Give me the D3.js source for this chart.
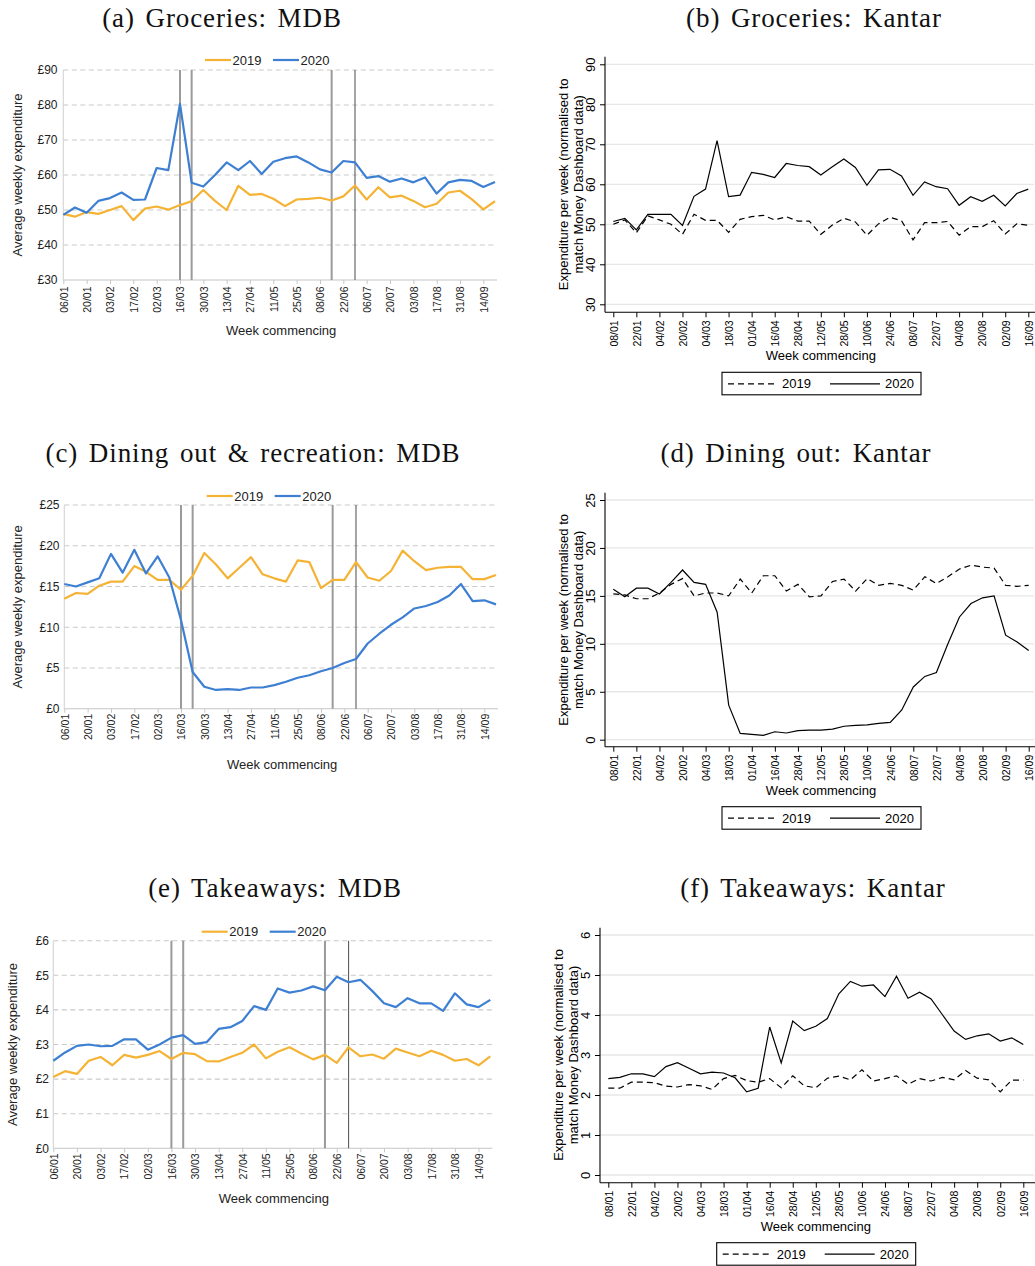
<!DOCTYPE html>
<html>
<head>
<meta charset="utf-8">
<script src="https://cdn.jsdelivr.net/npm/d3@7"></script>
<style>
  body { margin: 0; background: #fff; }
  svg { display: block; }
  text { font-family: "Liberation Sans", Arial, sans-serif; }
</style>
</head>
<body>
<svg id="fig" width="1035" height="1266"></svg>
<script>
// ---- Money Dashboard (MDB) weeks, Monday of each week ----
const mdbWeeks = ["06/01","13/01","20/01","27/01","03/02","10/02","17/02","24/02","02/03","09/03",
  "16/03","23/03","30/03","06/04","13/04","20/04","27/04","04/05","11/05","18/05",
  "25/05","01/06","08/06","15/06","22/06","29/06","06/07","13/07","20/07","27/07",
  "03/08","10/08","17/08","24/08","31/08","07/09","14/09","21/09"];
const mdbTickWeeks = mdbWeeks.filter((d, i) => i % 2 === 0);
// Weeks marked with a vertical rule (lockdown start / easing steps)
const policyWeeks = ["16/03","23/03","15/06","29/06"];

// ---- Kantar periods: labelled every second observation ----
const kantarTickLabels = ["08/01","22/01","04/02","20/02","04/03","18/03","01/04","16/04","28/04",
  "12/05","28/05","10/06","24/06","08/07","22/07","04/08","20/08","02/09","16/09"];

// ---- (a) Groceries: MDB ----
const groceriesMdb2019 = [48.9,48.1,49.4,48.9,50.0,51.1,47.1,50.4,51.0,50.1,51.4,52.5,55.7,52.6,50.0,56.9,54.3,54.6,53.2,51.1,
  53.0,53.2,53.5,52.7,53.9,57.0,53.0,56.5,53.6,54.1,52.6,50.8,51.8,55.0,55.5,53.1,50.2,52.5];
const groceriesMdb2020 = [48.6,50.7,49.2,52.6,53.4,55.0,52.9,53.0,62.0,61.4,80.3,57.8,56.7,60.0,63.6,61.4,64.0,60.3,63.8,64.8,
  65.3,63.6,61.6,60.7,64.0,63.6,59.2,59.7,58.1,59.0,57.9,59.3,54.7,57.9,58.6,58.3,56.6,58.0];

// ---- (b) Groceries: Kantar ----
const groceriesKantar2019 = [50.0,51.1,47.9,52.1,51.1,50.0,47.5,52.5,51.0,51.0,48.0,51.25,51.9,52.25,51.1,51.9,50.8,50.8,47.5,
  49.8,51.5,50.6,47.25,50.1,51.75,50.9,46.1,50.4,50.4,50.7,47.3,49.4,49.4,50.9,47.6,50.1,49.75];
const groceriesKantar2020 = [50.7,51.5,48.6,52.5,52.5,52.5,49.7,57.0,58.8,70.9,56.9,57.3,63.0,62.5,61.7,65.2,64.7,64.4,62.3,
  64.4,66.3,64.2,59.75,63.6,63.75,62.1,57.25,60.6,59.4,58.9,54.75,56.9,55.75,57.25,54.6,57.7,58.8];

// ---- (c) Dining out & recreation: MDB ----
const diningMdb2019 = [13.5,14.2,14.1,15.1,15.6,15.6,17.5,16.8,15.8,15.8,14.6,16.3,19.1,17.7,16.0,17.3,18.6,16.5,16.0,15.6,
  18.2,18.0,14.8,15.8,15.8,18.0,16.1,15.7,16.9,19.4,18.1,17.0,17.3,17.4,17.4,15.9,15.9,16.4];
const diningMdb2020 = [15.3,15.0,15.5,16.0,19.0,16.7,19.5,16.6,18.7,16.1,10.9,4.5,2.7,2.3,2.4,2.3,2.6,2.6,2.9,3.3,
  3.8,4.1,4.6,5.0,5.6,6.1,8.0,9.2,10.3,11.2,12.3,12.6,13.1,13.9,15.3,13.2,13.3,12.8];

// ---- (d) Dining out: Kantar ----
const diningKantar2019 = [15.2,15.1,14.7,14.7,15.3,16.2,16.8,15.0,15.3,15.3,15.0,16.75,15.3,17.1,17.1,15.5,16.2,14.9,15.0,
  16.5,16.75,15.5,16.8,16.1,16.3,16.1,15.6,17.0,16.3,17.0,17.8,18.2,18.0,17.9,16.1,16.0,16.1];
const diningKantar2020 = [15.7,14.9,15.8,15.8,15.2,16.4,17.7,16.4,16.2,13.3,3.6,0.66,0.56,0.45,0.83,0.70,0.94,1.0,1.0,
  1.1,1.4,1.5,1.55,1.7,1.8,3.1,5.5,6.6,7.0,10.0,12.8,14.2,14.8,15.0,10.9,10.2,9.3];

// ---- (e) Takeaways: MDB ----
const takeawaysMdb2019 = [2.06,2.23,2.15,2.53,2.64,2.40,2.70,2.62,2.70,2.81,2.58,2.76,2.72,2.52,2.51,2.64,2.76,3.00,2.60,2.79,
  2.92,2.74,2.57,2.70,2.47,2.92,2.66,2.71,2.59,2.88,2.77,2.66,2.82,2.70,2.53,2.58,2.40,2.66];
const takeawaysMdb2020 = [2.53,2.77,2.96,3.00,2.95,2.96,3.15,3.15,2.85,3.00,3.20,3.27,3.02,3.07,3.45,3.50,3.68,4.11,4.00,4.62,
  4.50,4.56,4.68,4.57,4.96,4.80,4.87,4.55,4.19,4.08,4.34,4.19,4.19,3.97,4.48,4.16,4.08,4.29];

// ---- (f) Takeaways: Kantar ----
const takeawaysKantar2019 = [2.17,2.17,2.32,2.32,2.31,2.22,2.20,2.26,2.23,2.14,2.41,2.49,2.36,2.32,2.41,2.18,2.48,2.23,2.18,
  2.42,2.47,2.38,2.63,2.35,2.41,2.48,2.27,2.41,2.35,2.44,2.38,2.61,2.42,2.38,2.08,2.37,2.37];
const takeawaysKantar2020 = [2.41,2.44,2.53,2.53,2.46,2.71,2.81,2.67,2.53,2.57,2.55,2.43,2.08,2.17,3.70,2.80,3.85,3.61,3.72,
  3.91,4.53,4.84,4.72,4.75,4.46,4.97,4.42,4.57,4.40,4.00,3.60,3.39,3.48,3.53,3.35,3.43,3.26];

const svg = d3.select("#fig");
const ORANGE = "#f5b335", BLUE = "#3d7fd2";

function title(txt, cx, y) {
  svg.append("text").attr("x", cx).attr("y", y).attr("text-anchor", "middle")
    .style("font-family", "'Liberation Serif', 'DejaVu Serif', serif")
    .style("font-size", "27px").style("letter-spacing", "0.9px").style("word-spacing", "3px")
    .attr("fill", "#111").text(txt);
}

// Excel-style panel from Money Dashboard data
function mdbPanel(o) {
  const g = svg.append("g");
  const x = d3.scalePoint().domain(mdbWeeks).range([o.x0, o.x1]);
  const y = d3.scaleLinear().domain(o.yDomain).range([o.yBottom, o.yTop]);
  title(o.title, o.titleX, o.titleY);

  // horizontal dashed gridlines
  g.selectAll(".grid").data(o.yTicks.slice(1)).join("line")
    .attr("x1", o.x0).attr("x2", o.x1 + 2).attr("y1", d => y(d)).attr("y2", d => y(d))
    .attr("stroke", "#c9c9c9").attr("stroke-width", 1.1).attr("stroke-dasharray", "5,3.5");
  // axes
  g.append("line").attr("x1", o.x0).attr("x2", o.x1 + 2).attr("y1", o.yBottom).attr("y2", o.yBottom)
    .attr("stroke", "#c6c6c6").attr("stroke-width", 1.1);
  g.append("line").attr("x1", o.x0).attr("x2", o.x0).attr("y1", o.yTop).attr("y2", o.yBottom)
    .attr("stroke", "#d4d4d4").attr("stroke-width", 1.1);

  const xAxis = d3.axisBottom(x).tickValues(mdbTickWeeks).tickSize(4).tickSizeOuter(0);
  const xa = g.append("g").attr("transform", `translate(0,${o.yBottom})`).call(xAxis);
  xa.select(".domain").remove();
  xa.selectAll(".tick line").attr("stroke", "#c6c6c6");
  xa.selectAll(".tick text")
    .attr("transform", "rotate(-90)").attr("text-anchor", "end")
    .attr("x", -o.labelGap).attr("y", 0).attr("dy", "0.36em")
    .style("font-size", o.xFont + "px").attr("fill", "#222");

  const yAxis = d3.axisLeft(y).tickValues(o.yTicks).tickFormat(d => "£" + d).tickSize(0);
  const ya = g.append("g").attr("transform", `translate(${o.yLabelRight},0)`).call(yAxis);
  ya.select(".domain").remove();
  ya.selectAll(".tick text").attr("x", 0).style("font-size", "12px").attr("fill", "#222");

  g.append("text").attr("transform", `translate(${o.yTitleX},${(o.yTop + o.yBottom) / 2}) rotate(-90)`)
    .attr("text-anchor", "middle").style("font-size", "13px").attr("fill", "#222")
    .text("Average weekly expenditure");
  g.append("text").attr("x", (o.x0 + o.x1) / 2 + 2).attr("y", o.weekTitleY)
    .attr("text-anchor", "middle").style("font-size", "13px").attr("fill", "#222")
    .text("Week commencing");

  // policy markers
  g.selectAll(".policy").data(policyWeeks).join("line")
    .attr("x1", d => x(d)).attr("x2", d => x(d)).attr("y1", o.yTop).attr("y2", o.yBottom)
    .attr("stroke", (d, i) => i === 3 ? "#5c5c5c" : "#9a9a9a")
    .attr("stroke-width", (d, i) => i === 3 ? 1.1 : 2);

  const line = d3.line().x((d, i) => x(mdbWeeks[i])).y(d => y(d));
  g.append("path").datum(o.s2019).attr("d", line).attr("fill", "none")
    .attr("stroke", ORANGE).attr("stroke-width", 2.2).attr("stroke-linejoin", "round");
  g.append("path").datum(o.s2020).attr("d", line).attr("fill", "none")
    .attr("stroke", BLUE).attr("stroke-width", 2.2).attr("stroke-linejoin", "round");

  // legend
  const lg = g.append("g").attr("transform", `translate(${o.legendX},${o.legendY})`);
  [["2019", ORANGE], ["2020", BLUE]].forEach(([lab, col], i) => {
    const dx = i * 68;
    lg.append("line").attr("x1", dx).attr("x2", dx + 26).attr("y1", 0).attr("y2", 0)
      .attr("stroke", col).attr("stroke-width", 2.2);
    lg.append("text").attr("x", dx + 27.5).attr("y", 0).attr("dy", "0.35em")
      .style("font-size", "13px").attr("fill", "#222").text(lab);
  });
}

// Stata-style panel from Kantar data
function kantarPanel(o) {
  const g = svg.append("g");
  const n = o.s2020.length;
  const x = d3.scaleLinear().domain([0, n - 1]).range([o.x0, o.x1]);
  const y = d3.scaleLinear().domain(o.yDomain).range([o.yBottom, o.yTop]);
  title(o.title, o.titleX, o.titleY);

  g.selectAll(".grid").data(o.yTicks).join("line")
    .attr("x1", o.axisX).attr("x2", 1034).attr("y1", d => y(d)).attr("y2", d => y(d))
    .attr("stroke", "#e7e7e7").attr("stroke-width", 1.3);

  const xAxis = d3.axisBottom(x).tickValues(d3.range(0, n, 2))
    .tickFormat(i => kantarTickLabels[i / 2]).tickSize(5).tickSizeOuter(0);
  const xa = g.append("g").attr("transform", `translate(0,${o.axisY})`).call(xAxis);
  xa.select(".domain").remove();
  xa.selectAll(".tick line").attr("stroke", "#000");
  xa.selectAll(".tick text").attr("transform", "rotate(-90)").attr("text-anchor", "end")
    .attr("x", -8).attr("y", 0).attr("dy", "0.36em").style("font-size", "10.5px").attr("fill", "#000");

  const yAxis = d3.axisLeft(y).tickValues(o.yTicks).tickFormat(d3.format("d")).tickSize(5);
  const ya = g.append("g").attr("transform", `translate(${o.axisX},0)`).call(yAxis);
  ya.select(".domain").remove();
  ya.selectAll(".tick line").attr("stroke", "#000");
  ya.selectAll(".tick text").attr("x", null).attr("dy", null)
    .attr("transform", "translate(-10.5,0) rotate(-90)").attr("text-anchor", "middle")
    .attr("y", 0).style("font-size", "13px").attr("fill", "#000");

  g.append("line").attr("x1", o.axisX).attr("x2", o.axisX).attr("y1", o.axisTop).attr("y2", o.axisY)
    .attr("stroke", "#000").attr("stroke-width", 1.1);
  g.append("line").attr("x1", o.axisX).attr("x2", 1035).attr("y1", o.axisY).attr("y2", o.axisY)
    .attr("stroke", "#000").attr("stroke-width", 1.1);

  const midY = (o.yTop + o.yBottom) / 2;
  const yt = g.append("text").attr("transform", `translate(${o.axisX - 37},${midY}) rotate(-90)`)
    .attr("text-anchor", "middle").style("font-size", "13px").attr("fill", "#000");
  yt.append("tspan").attr("x", 0).attr("dy", 0).text("Expenditure per week (normalised to");
  yt.append("tspan").attr("x", 0).attr("dy", 15).text("match Money Dashboard data)");

  g.append("text").attr("x", (o.x0 + o.x1) / 2).attr("y", o.axisY + 48)
    .attr("text-anchor", "middle").style("font-size", "13px").attr("fill", "#000")
    .text("Week commencing");

  const line = d3.line().x((d, i) => x(i)).y(d => y(d));
  g.append("path").datum(o.s2019).attr("d", line).attr("fill", "none")
    .attr("stroke", "#000").attr("stroke-width", 1.2).attr("stroke-dasharray", "6,4");
  g.append("path").datum(o.s2020).attr("d", line).attr("fill", "none")
    .attr("stroke", "#000").attr("stroke-width", 1.2);

  // legend box
  const lg = g.append("g").attr("transform", `translate(${o.legendX},${o.axisY + 60})`);
  lg.append("rect").attr("x", 0).attr("y", 0).attr("width", 199).attr("height", 22.5)
    .attr("fill", "#fff").attr("stroke", "#000").attr("stroke-width", 1.1);
  lg.append("line").attr("x1", 6).attr("x2", 54).attr("y1", 11.5).attr("y2", 11.5)
    .attr("stroke", "#000").attr("stroke-width", 1.2).attr("stroke-dasharray", "6,4");
  lg.append("text").attr("x", 60).attr("y", 11.5).attr("dy", "0.36em").style("font-size", "13px").text("2019");
  lg.append("line").attr("x1", 108).attr("x2", 158).attr("y1", 11.5).attr("y2", 11.5)
    .attr("stroke", "#000").attr("stroke-width", 1.2);
  lg.append("text").attr("x", 163).attr("y", 11.5).attr("dy", "0.36em").style("font-size", "13px").text("2020");
}

mdbPanel({ title: "(a) Groceries: MDB", titleX: 222, titleY: 27,
  x0: 63.3, x1: 495, yTop: 70, yBottom: 280, yDomain: [30, 90], yTicks: [30, 40, 50, 60, 70, 80, 90],
  s2019: groceriesMdb2019, s2020: groceriesMdb2020, yLabelRight: 57.5, yTitleX: 22,
  labelGap: 6.5, xFont: 10.5, weekTitleY: 334.5, legendX: 205, legendY: 60 });

kantarPanel({ title: "(b) Groceries: Kantar", titleX: 814, titleY: 27,
  x0: 613.3, x1: 1028.3, yTop: 64.3, yBottom: 304.3, yDomain: [30, 90], yTicks: [30, 40, 50, 60, 70, 80, 90],
  axisX: 605, axisY: 312.3, axisTop: 56.7, legendX: 722,
  s2019: groceriesKantar2019, s2020: groceriesKantar2020 });

mdbPanel({ title: "(c) Dining out & recreation: MDB", titleX: 253, titleY: 462,
  x0: 64.3, x1: 496, yTop: 505, yBottom: 708.7, yDomain: [0, 25], yTicks: [0, 5, 10, 15, 20, 25],
  s2019: diningMdb2019, s2020: diningMdb2020, yLabelRight: 59.5, yTitleX: 22,
  labelGap: 5, xFont: 10.5, weekTitleY: 769, legendX: 206.7, legendY: 496 });

kantarPanel({ title: "(d) Dining out: Kantar", titleX: 796, titleY: 462,
  x0: 613.3, x1: 1028.7, yTop: 500, yBottom: 739.7, yDomain: [0, 25], yTicks: [0, 5, 10, 15, 20, 25],
  axisX: 605, axisY: 746.7, axisTop: 492.7, legendX: 722,
  s2019: diningKantar2019, s2020: diningKantar2020 });

mdbPanel({ title: "(e) Takeaways: MDB", titleX: 275, titleY: 897,
  x0: 53.3, x1: 490.3, yTop: 940.7, yBottom: 1148.3, yDomain: [0, 6], yTicks: [0, 1, 2, 3, 4, 5, 6],
  s2019: takeawaysMdb2019, s2020: takeawaysMdb2020, yLabelRight: 49, yTitleX: 17,
  labelGap: 5, xFont: 10.5, weekTitleY: 1203, legendX: 201.7, legendY: 931.7 });

kantarPanel({ title: "(f) Takeaways: Kantar", titleX: 813, titleY: 897,
  x0: 608.3, x1: 1023.3, yTop: 935, yBottom: 1175, yDomain: [0, 6], yTicks: [0, 1, 2, 3, 4, 5, 6],
  axisX: 600, axisY: 1182.7, axisTop: 927.7, legendX: 716.7,
  s2019: takeawaysKantar2019, s2020: takeawaysKantar2020 });
</script>
</body>
</html>
